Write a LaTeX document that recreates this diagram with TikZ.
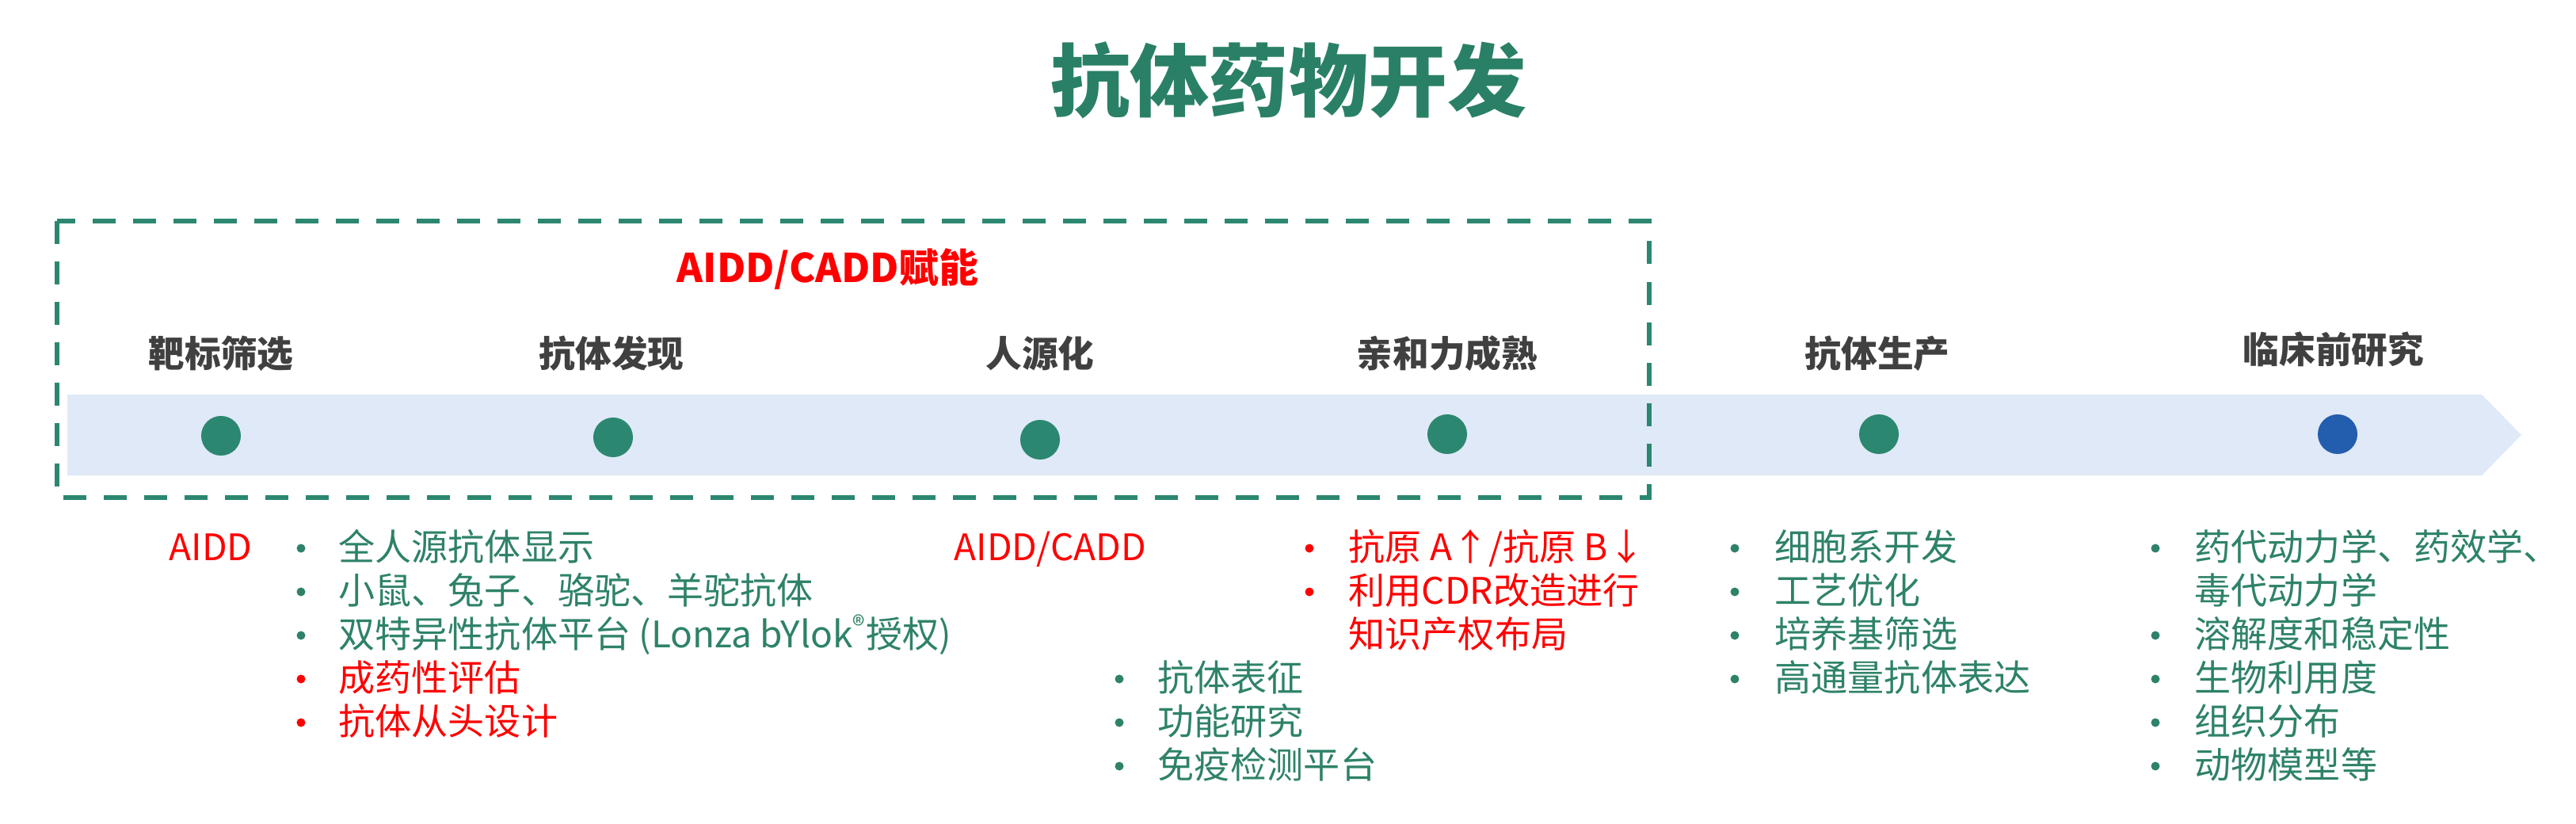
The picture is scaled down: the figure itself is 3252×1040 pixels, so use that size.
\documentclass[tikz,border=0pt]{standalone}
\usepackage{fontspec}
\setmainfont{Noto Sans CJK SC}
\definecolor{tgreen}{HTML}{2A8066}
\definecolor{dgreen}{HTML}{2C8770}
\definecolor{lgreen}{HTML}{2E8269}
\definecolor{bandblue}{HTML}{DFE9F7}
\definecolor{dotblue}{HTML}{235DAD}
\definecolor{stagegray}{HTML}{404040}
\definecolor{rred}{HTML}{FF0000}
\begin{document}
\begin{tikzpicture}[x=0.01cm,y=-0.01cm,
  titlefont/.style={font=\fontsize{28.45pt}{34pt}\selectfont\bfseries, text=tgreen, inner sep=0},
  stage/.style={font=\fontsize{13pt}{16pt}\selectfont\bfseries, text=stagegray, inner sep=0},
  dotnode/.style={circle, fill=dgreen, minimum size=0.5cm, inner sep=0},
  bul/.style={circle, fill=lgreen, minimum size=0.11cm, inner sep=0},
  rbul/.style={bul, fill=rred},
  txt/.style={anchor=base west, inner sep=0, font=\fontsize{13.1pt}{15.6pt}\selectfont, text=lgreen},
  rtxt/.style={txt, text=rred},
  dashbox/.style={draw=dgreen, line width=0.06cm, dash pattern=on 0.29cm off 0.22cm}
]
\useasboundingbox (0,0) rectangle (3252,1040);

% title
\node[titlefont] (title) at (1627,101) {抗体药物开发};

% band arrow
\fill[bandblue] (85,498) -- (3133,498) -- (3183,549) -- (3133,600) -- (85,600) -- cycle;

% dashed box
\draw[dashbox] (72,279) rectangle (2082,628);
\node[font=\fontsize{14.2pt}{17pt}\selectfont\bfseries, text=rred, inner sep=0] (enable) at (1045,340) {AIDD/CADD赋能};

% stages
\node[stage] (s1) at (279,446) {靶标筛选};
\node[stage] (s2) at (772,446) {抗体发现};
\node[stage] (s3) at (1313,446) {人源化};
\node[stage] (s4) at (1827,446) {亲和力成熟};
\node[stage] (s5) at (2370,446) {抗体生产};
\node[stage] (s6) at (2946,441) {临床前研究};

% dots
\node[dotnode] (d1) at (279,550) {};
\node[dotnode] (d2) at (774,552) {};
\node[dotnode] (d3) at (1313,555) {};
\node[dotnode] (d4) at (1827,548) {};
\node[dotnode] (d5) at (2372,548) {};
\node[dotnode, fill=dotblue] (d6) at (2951,548) {};

% list 1
\node[rtxt] (aidd) at (213,707) {AIDD};
\node[bul] (b1a) at (380,692) {}; \node[txt] (t1a) at (427,707) {全人源抗体显示};
\node[bul] (b1b) at (380,747) {}; \node[txt] (t1b) at (427,762) {小鼠、兔子、骆驼、羊驼抗体};
\node[bul] (b1c) at (380,802) {}; \node[txt] (t1c) at (427,817) {双特异性抗体平台 (Lonza bYlok\textsuperscript{®}授权)};
\node[rbul] (b1d) at (380,857) {}; \node[rtxt] (t1d) at (427,872) {成药性评估};
\node[rbul] (b1e) at (380,912) {}; \node[rtxt] (t1e) at (427,927) {抗体从头设计};

% list 2
\node[rtxt] (acadd) at (1204,707) {AIDD/CADD};

% list 3
\node[bul] (b3a) at (1413,857) {}; \node[txt] (t3a) at (1461,872) {抗体表征};
\node[bul] (b3b) at (1413,912) {}; \node[txt] (t3b) at (1461,927) {功能研究};
\node[bul] (b3c) at (1413,967) {}; \node[txt] (t3c) at (1461,982) {免疫检测平台};

% list 4
\node[rbul] (b4a) at (1653,692) {}; \node[rtxt] (t4a) at (1702,707) {抗原 A↑/抗原 B↓};
\node[rbul] (b4b) at (1653,747) {}; \node[rtxt] (t4b) at (1702,762) {利用CDR改造进行};
\node[rtxt] (t4c) at (1702,817) {知识产权布局};

% list 5
\node[bul] (b5a) at (2190,692) {}; \node[txt] (t5a) at (2240,707) {细胞系开发};
\node[bul] (b5b) at (2190,747) {}; \node[txt] (t5b) at (2240,762) {工艺优化};
\node[bul] (b5c) at (2190,802) {}; \node[txt] (t5c) at (2240,817) {培养基筛选};
\node[bul] (b5d) at (2190,857) {}; \node[txt] (t5d) at (2240,872) {高通量抗体表达};

% list 6
\node[bul] (b6a) at (2721,692) {}; \node[txt] (t6a) at (2770,707) {药代动力学、药效学、};
\node[txt] (t6b) at (2770,762) {毒代动力学};
\node[bul] (b6c) at (2721,802) {}; \node[txt] (t6c) at (2770,817) {溶解度和稳定性};
\node[bul] (b6d) at (2721,857) {}; \node[txt] (t6d) at (2770,872) {生物利用度};
\node[bul] (b6e) at (2721,912) {}; \node[txt] (t6e) at (2770,927) {组织分布};
\node[bul] (b6f) at (2721,967) {}; \node[txt] (t6f) at (2770,982) {动物模型等};
\end{tikzpicture}
\end{document}
